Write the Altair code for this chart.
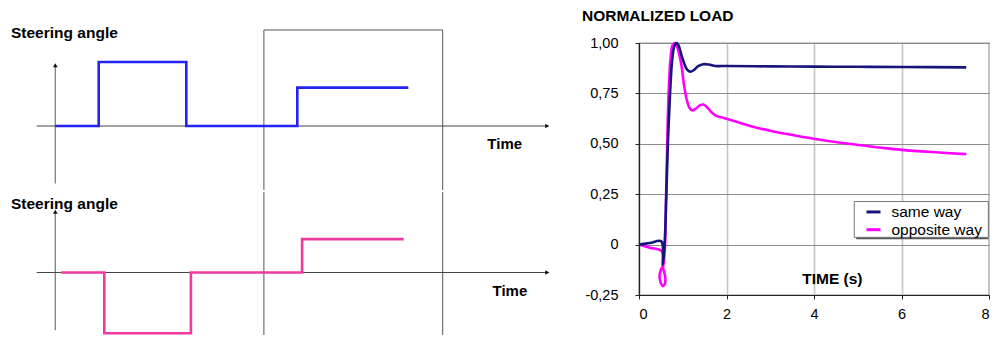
import altair as alt
import pandas as pd

FONT = "Liberation Sans"

# ---------------- left schematic: steering input (arbitrary time units) ----------------
same_step_t = [0.0, 2.17, 6.55, 12.1, 17.65]
same_step_a = [0.0, 1.0, 0.0, 0.6, 0.6]
opp_step_t = [0.29, 2.45, 6.78, 12.34, 17.42]
opp_step_a = [0.0, -1.0, 0.0, 0.55, 0.55]
window_t = [10.43, 19.37]
axis_t = [-0.93, 24.6]
panel_label = "Steering angle"
time_label = "Time"

# ---------------- right chart: normalized load ----------------
same_t = [0.0, 0.25, 0.51, 0.545, 0.585, 0.625, 0.66, 0.71, 0.76, 0.81, 0.86, 0.91, 0.97,
          1.04, 1.10, 1.17, 1.25, 1.35, 1.47, 1.60, 1.75, 2.0, 3.0, 4.0, 5.0, 6.0, 7.48]
same_v = [0.0, 0.008, 0.016, -0.10, 0.0, 0.25, 0.50, 0.75, 0.92, 0.985, 1.0, 0.985, 0.94,
          0.895, 0.868, 0.858, 0.865, 0.885, 0.895, 0.893, 0.886, 0.886, 0.884, 0.883, 0.882, 0.881, 0.879]
opp_t = [0.0, 0.25, 0.52, 0.555, 0.60, 0.59, 0.54, 0.49, 0.47, 0.50, 0.56, 0.58, 0.595, 0.62,
         0.645, 0.675, 0.72, 0.77, 0.83, 0.90, 0.97, 1.03, 1.09, 1.15, 1.21, 1.30, 1.40, 1.47,
         1.55, 1.65, 1.75, 1.90, 2.0, 2.3, 2.6, 3.0, 3.35, 4.0, 4.8, 5.6, 6.0, 6.7, 7.48]
opp_v = [0.0, -0.016, -0.033, -0.12, -0.16, -0.195, -0.205, -0.185, -0.155, -0.125, -0.10, -0.05,
         0.0, 0.25, 0.50, 0.74, 0.92, 0.99, 1.0, 0.96, 0.89, 0.79, 0.72, 0.68, 0.666, 0.675, 0.692,
         0.695, 0.683, 0.658, 0.640, 0.630, 0.624, 0.605, 0.585, 0.565, 0.550, 0.525, 0.500, 0.479,
         0.470, 0.459, 0.449]
series_names = ["same way", "opposite way"]
series_colors = ["#16167a", "#ff00ff"]
y_ticks = [-0.25, 0.0, 0.25, 0.5, 0.75, 1.0]
x_ticks = [0, 2, 4, 6, 8]
chart_title = "NORMALIZED LOAD"
x_title = "TIME (s)"

# legend box (data units of the right chart)
legend_box_t = [4.92, 7.985]
legend_box_v = [0.036, 0.2136]
legend_sym_t = [5.2, 5.52]
legend_row_v = [0.162, 0.074]
legend_text_t = 5.77
time_label_pos = (4.42, -0.170)

# ================= left panels =================
LW = 548
xl = alt.Scale(domain=[-2.315, 25.085], nice=False, zero=False)


def panel(step_t, step_a, color, ydom, height, axis_a, label_a, time_t, time_a, top_rect=None):
    ys = alt.Scale(domain=ydom, nice=False, zero=False)
    X = lambda f: alt.X(f, type="quantitative", scale=xl, axis=None)
    Y = lambda f: alt.Y(f, type="quantitative", scale=ys, axis=None)

    yaxis_df = pd.DataFrame({"t": [0.0], "a0": [axis_a[0]], "a1": [axis_a[1]]})
    yaxis = alt.Chart(yaxis_df).mark_rule(color="#777777", strokeWidth=1.2).encode(
        x=X("t"), y=Y("a0"), y2="a1")
    yhead = alt.Chart(pd.DataFrame({"t": [0.0], "a": [axis_a[1]]})).mark_point(
        shape="triangle-up", filled=True, size=22, color="#111111", opacity=1).encode(x=X("t"), y=Y("a"))

    base_df = pd.DataFrame({"t0": [axis_t[0]], "t1": [axis_t[1]], "a": [0.0]})
    base = alt.Chart(base_df).mark_rule(color="#444444", strokeWidth=1).encode(
        x=X("t0"), x2="t1", y=Y("a"))
    xhead = alt.Chart(pd.DataFrame({"t": [axis_t[1]], "a": [0.0]})).mark_point(
        shape="triangle-right", filled=True, size=22, color="#111111", opacity=1).encode(x=X("t"), y=Y("a"))

    rtop = top_rect if top_rect is not None else ydom[1]
    frame_df = pd.DataFrame({"t": window_t, "a0": [ydom[0]] * 2, "a1": [rtop] * 2})
    frame = alt.Chart(frame_df).mark_rule(color="#555555", strokeWidth=1).encode(
        x=X("t"), y=Y("a0"), y2="a1")
    layers = [frame, yaxis, base, yhead, xhead]
    if top_rect is not None:
        ftop = alt.Chart(pd.DataFrame({"t0": [window_t[0]], "t1": [window_t[1]], "a": [top_rect]})).mark_rule(
            color="#555555", strokeWidth=1).encode(x=X("t0"), x2="t1", y=Y("a"))
        layers.append(ftop)

    step_df = pd.DataFrame({"t": step_t, "a": step_a})
    step = alt.Chart(step_df).mark_line(interpolate="step-after", color=color, strokeWidth=2.6).encode(
        x=X("t"), y=Y("a"))
    layers.append(step)

    lab = alt.Chart(pd.DataFrame({"t": [-2.215], "a": [label_a], "s": [panel_label]})).mark_text(
        align="left", baseline="middle", font=FONT, fontSize=15.5, fontWeight="bold", color="#000000").encode(
        x=X("t"), y=Y("a"), text="s:N")
    tl = alt.Chart(pd.DataFrame({"t": [time_t], "a": [time_a], "s": [time_label]})).mark_text(
        align="center", baseline="middle", font=FONT, fontSize=15, fontWeight="bold", color="#000000").encode(
        x=X("t"), y=Y("a"), text="s:N")
    layers += [lab, tl]
    return alt.layer(*layers).properties(width=LW, height=height)


top = panel(same_step_t, same_step_a, "#2222f2", [-1.0, 1.296875], 147, [-0.9, 0.95], 1.45,
            22.47, -0.281, top_rect=1.5)
bottom = panel(opp_step_t, opp_step_a, "#ee3a9e", [-1.03, 1.3266], 143, [-0.95, 1.0], 1.125,
               22.73, -0.30)
left = alt.vconcat(top, bottom, spacing=0)

# ================= right chart =================
xs = alt.Scale(domain=[0, 8], nice=False, zero=False)
ys = alt.Scale(domain=[-0.25, 1.0], nice=False, zero=False)
xaxis = alt.Axis(values=x_ticks, grid=True, gridColor="#c4c4c4", gridWidth=1.6, domainColor="#222222",
                 tickColor="#222222", tickSize=4, labelFont=FONT, labelFontSize=14.5, labelColor="#000000",
                 labelPadding=8, domainWidth=1.2)
yaxis = alt.Axis(values=y_ticks, grid=True, gridColor="#8c8c8c", gridWidth=1, domainColor="#222222",
                 tickColor="#222222", tickSize=4, labelFont=FONT, labelFontSize=14.5, labelColor="#000000",
                 labelPadding=17, domainWidth=1.2,
                 labelExpr="datum.value == 0 ? '0' : (datum.value < 0 ? '-' : '') + "
                           "replace(format(abs(datum.value), '.2f'), '.', ',')")

same_df = pd.DataFrame({"t": same_t, "v": same_v, "i": range(len(same_t))})
opp_df = pd.DataFrame({"t": opp_t, "v": opp_v, "i": range(len(opp_t))})

opp_line = alt.Chart(opp_df).mark_line(color=series_colors[1], strokeWidth=2.6, interpolate="catmull-rom").encode(
    x=alt.X("t:Q", scale=xs, axis=xaxis, title=None),
    y=alt.Y("v:Q", scale=ys, axis=yaxis, title=None),
    order="i:Q")
same_line = alt.Chart(same_df).mark_line(color=series_colors[0], strokeWidth=2.6, interpolate="catmull-rom").encode(
    x=alt.X("t:Q", scale=xs), y=alt.Y("v:Q", scale=ys), order="i:Q")

box_df = pd.DataFrame({"t0": [legend_box_t[0]], "t1": [legend_box_t[1]],
                       "v0": [legend_box_v[0]], "v1": [legend_box_v[1]]})
shadow = alt.Chart(box_df).mark_rect(color="#555555", xOffset=2, yOffset=2).encode(
    x=alt.X("t0:Q", scale=xs), x2="t1", y=alt.Y("v0:Q", scale=ys), y2="v1")
box = alt.Chart(box_df).mark_rect(fill="#ffffff", stroke="#777777", strokeWidth=1).encode(
    x=alt.X("t0:Q", scale=xs), x2="t1", y=alt.Y("v0:Q", scale=ys), y2="v1")
leg_df = pd.DataFrame({"t0": [legend_sym_t[0]] * 2, "t1": [legend_sym_t[1]] * 2, "v": legend_row_v,
                       "tt": [legend_text_t] * 2, "s": series_names})
leg_sym = alt.Chart(leg_df).mark_rule(strokeWidth=3).encode(
    x=alt.X("t0:Q", scale=xs), x2="t1", y=alt.Y("v:Q", scale=ys),
    color=alt.Color("s:N", scale=alt.Scale(domain=series_names, range=series_colors), legend=None))
leg_txt = alt.Chart(leg_df).mark_text(align="left", baseline="middle", font=FONT, fontSize=15.5,
                                      color="#000000").encode(
    x=alt.X("tt:Q", scale=xs), y=alt.Y("v:Q", scale=ys), text="s:N")
tlab = alt.Chart(pd.DataFrame({"t": [time_label_pos[0]], "v": [time_label_pos[1]], "s": [x_title]})).mark_text(
    align="center", baseline="middle", font=FONT, fontSize=15.5, fontWeight="bold", color="#000000").encode(
    x=alt.X("t:Q", scale=xs), y=alt.Y("v:Q", scale=ys), text="s:N")

right = alt.layer(opp_line, same_line, shadow, box, leg_sym, leg_txt, tlab).properties(
    width=350, height=252,
    view=alt.ViewBackground(stroke="#333333", strokeWidth=1.2),
    title=alt.TitleParams(chart_title, anchor="start", frame="group", font=FONT, fontSize=15.5,
                          fontWeight="bold", color="#000000", dx=-57, offset=-1.5, baseline="alphabetic"))

chart = alt.hconcat(left, right, spacing=23).properties(
    padding={"left": 0, "top": 0, "right": -1, "bottom": 0}
).configure_view(stroke="transparent")

chart.save("out.html", embed_options={"renderer": "svg", "actions": False})
